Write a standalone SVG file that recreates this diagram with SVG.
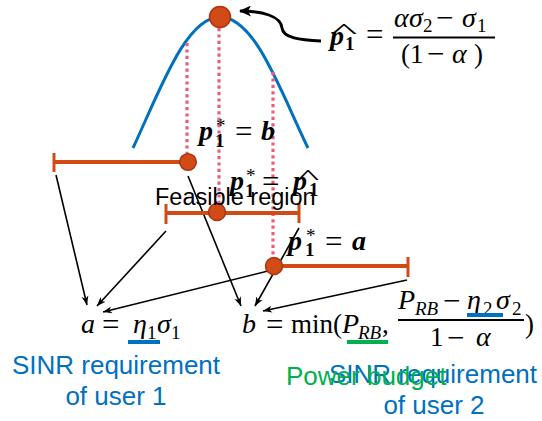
<svg xmlns="http://www.w3.org/2000/svg" width="542" height="421" viewBox="0 0 542 421">
<defs>
<style>
.curve{fill:none;stroke:#0070C0;stroke-width:3}
.dot{fill:none;stroke:#E5607A;stroke-width:3.2;stroke-dasharray:3.2 3.2}
.bar{fill:none;stroke:#D24A16;stroke-width:4}
.tick{fill:none;stroke:#D24A16;stroke-width:3}
.pt{fill:#D24A16;stroke:#A8360F;stroke-width:1.5}
.con{fill:none;stroke:#000;stroke-width:1.6;marker-end:url(#ah)}
.m{font-family:"Liberation Serif",serif;font-size:27px;fill:#000}
.op{font-family:"Liberation Serif",serif;font-size:31px;fill:#000}
.mi{font-family:"Liberation Serif",serif;font-size:28px;font-style:italic;fill:#000}
.ms{font-family:"Liberation Serif",serif;font-size:19px;fill:#000}
.msi{font-family:"Liberation Serif",serif;font-size:19px;font-style:italic;fill:#000}
.bi{font-family:"Liberation Serif",serif;font-size:28px;font-style:italic;font-weight:bold;fill:#000}
.bs{font-family:"Liberation Serif",serif;font-size:19px;font-weight:bold;fill:#000}
.st{font-family:"Liberation Serif",serif;font-size:19px;fill:#000}
.sans{font-family:"Liberation Sans",Arial,sans-serif;font-size:26px}
.blue{fill:#0070C0}
.green{fill:#00B050}
</style>
<marker id="ah" markerWidth="10" markerHeight="8" refX="9" refY="4" orient="auto" markerUnits="userSpaceOnUse"><path d="M0,0.5 L9,4 L0,7.5 L2.5,4 z" fill="#000"/></marker>
<marker id="ahb" markerWidth="13" markerHeight="11" refX="11" refY="5.5" orient="auto" markerUnits="userSpaceOnUse"><path d="M0,0 L12,5.5 L0,11 L3,5.5 z" fill="#000"/></marker>
</defs>
<rect width="542" height="421" fill="#fff"/>

<g id="curve">
<path class="curve" d="M133,148 C160,90 186,17 220,17 C255,17 280,90 308,148"/>
</g>

<g id="guides">
<line class="dot" x1="187" y1="43" x2="187" y2="155"/>
<line class="dot" x1="219" y1="28" x2="219" y2="204"/>
<line class="dot" x1="273" y1="72" x2="273" y2="258"/>
</g>

<g id="connectors">
<line class="con" x1="56" y1="175" x2="87" y2="305"/>
<line class="con" x1="166" y1="231" x2="97" y2="306"/>
<line class="con" x1="272" y1="270" x2="103" y2="312"/>
<line class="con" x1="188" y1="176" x2="241" y2="306"/>
<line class="con" x1="299" y1="228" x2="255" y2="306"/>
<line class="con" x1="407" y1="280" x2="263" y2="311"/>
<path d="M321,41 C300,40 283,38 282,28 C281,16 262,11 240,11" fill="none" stroke="#000" stroke-width="2.8" marker-end="url(#ahb)"/>
</g>

<g id="bar-upper">
<line class="bar" x1="54" y1="162" x2="188" y2="162"/>
<line class="tick" x1="54" y1="153" x2="54" y2="172"/>
<circle class="pt" cx="188" cy="162" r="8.3"/>
</g>

<g id="bar-middle">
<line class="bar" x1="166" y1="213" x2="299" y2="213"/>
<line class="tick" x1="166" y1="204" x2="166" y2="224"/>
<line class="tick" x1="299" y1="203" x2="299" y2="223"/>
<circle class="pt" cx="217" cy="212" r="8.5"/>
</g>

<g id="bar-lower">
<line class="bar" x1="274" y1="266" x2="408" y2="266"/>
<line class="tick" x1="408" y1="257" x2="408" y2="277"/>
<circle class="pt" cx="274" cy="266" r="8.5"/>
</g>

<g id="peak">
<circle class="pt" cx="220" cy="17" r="10.5"/>
</g>

<g id="formula-phat">
<text class="bi" x="330" y="45">p</text>
<text class="bs" x="345" y="50">1</text>
<text class="m" transform="translate(344,38) scale(2.6,1)" text-anchor="middle" style="font-size:22px">^</text>
<text class="op" x="366" y="45">=</text>
<text class="mi" x="394" y="27">α</text>
<text class="mi" x="409" y="27">σ</text>
<text class="ms" x="423" y="32">2</text>
<text class="op" x="436" y="28">−</text>
<text class="mi" x="462" y="27">σ</text>
<text class="ms" x="477" y="32">1</text>
<line x1="393" y1="37.5" x2="495" y2="37.5" stroke="#000" stroke-width="2"/>
<text class="m" x="401" y="63">(1</text>
<text class="op" x="427" y="64">−</text>
<text class="mi" x="452" y="63">α</text>
<text class="m" x="474" y="63">)</text>
</g>

<g id="label-b">
<text class="bi" x="199" y="140">p</text>
<text class="st" x="216" y="132">*</text>
<text class="bs" x="215" y="147">1</text>
<text class="op" x="235" y="142">=</text>
<text class="bi" x="261" y="140">b</text>
</g>

<g id="label-phat">
<text class="bi" x="230" y="190">p</text>
<text class="st" x="246" y="182">*</text>
<text class="bs" x="245" y="197">1</text>
<text class="op" x="262" y="192">=</text>
<text class="bi" x="293" y="190">p</text>
<text class="bs" x="309" y="196">1</text>
<text class="m" transform="translate(308,184) scale(2.4,1)" text-anchor="middle" style="font-size:20px">^</text>
</g>

<g id="label-feasible">
<text class="sans" x="155" y="205" style="font-size:23.5px" fill="#000">Feasible region</text>
</g>

<g id="label-a">
<text class="bi" x="288" y="250">p</text>
<text class="st" x="306" y="242">*</text>
<text class="bs" x="305" y="256">1</text>
<text class="op" x="325" y="252">=</text>
<text class="bi" x="352" y="250">a</text>
</g>

<g id="formula-a">
<text class="mi" x="81" y="333">a</text>
<text class="op" x="102" y="335">=</text>
<text class="mi" x="133" y="333">η</text>
<text class="ms" x="147" y="339">1</text>
<text class="mi" x="157" y="333">σ</text>
<text class="ms" x="171" y="339">1</text>
<rect x="128" y="340" width="32" height="4" fill="#0070C0"/>
</g>

<g id="formula-b">
<text class="mi" x="242" y="333">b</text>
<text class="op" x="266" y="335">=</text>
<text class="m" x="291" y="333">min(</text>
<text class="mi" x="342" y="333">P</text>
<text class="msi" x="358" y="339">RB</text>
<text class="m" x="382" y="333">,</text>
<rect x="347" y="340" width="41" height="4" fill="#00B050"/>
<text class="mi" x="398" y="309">P</text>
<text class="msi" x="415" y="315">RB</text>
<text class="op" x="443" y="311">−</text>
<text class="mi" x="467" y="309">η</text>
<text class="ms" x="483" y="315">2</text>
<text class="mi" x="496" y="309">σ</text>
<text class="ms" x="512" y="315">2</text>
<rect x="467" y="313" width="36" height="4" fill="#0070C0"/>
<line x1="398" y1="320" x2="524" y2="320" stroke="#000" stroke-width="2"/>
<text class="m" x="430" y="346">1</text>
<text class="op" x="447" y="348">−</text>
<text class="mi" x="476" y="346">α</text>
<text class="m" x="525" y="333">)</text>
</g>

<g id="text-sinr1">
<text class="sans blue" x="116" y="374" text-anchor="middle">SINR requirement</text>
<text class="sans blue" x="116" y="405" text-anchor="middle">of user 1</text>
</g>

<g id="text-sinr2">
<text class="sans blue" x="433" y="383" text-anchor="middle">SINR requirement</text>
<text class="sans blue" x="434" y="414" text-anchor="middle">of user 2</text>
</g>

<g id="text-power">
<text class="sans green" x="286" y="385">Power budget</text>
</g>
</svg>
